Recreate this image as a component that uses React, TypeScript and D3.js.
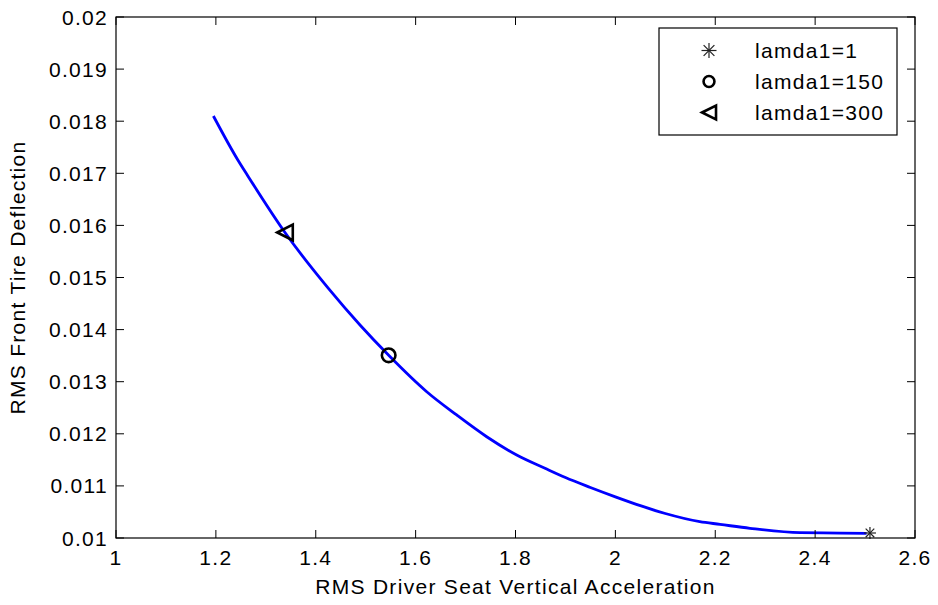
import React from "react";
import * as d3 from "d3";

const xTickValues = [1, 1.2, 1.4, 1.6, 1.8, 2, 2.2, 2.4, 2.6];
const xTickLabels = ["1", "1.2", "1.4", "1.6", "1.8", "2", "2.2", "2.4", "2.6"];
const yTickValues = [0.01, 0.011, 0.012, 0.013, 0.014, 0.015, 0.016, 0.017, 0.018, 0.019, 0.02];
const yTickLabels = ["0.01", "0.011", "0.012", "0.013", "0.014", "0.015", "0.016", "0.017", "0.018", "0.019", "0.02"];

const curveX = [1.195, 1.244, 1.264, 1.3384, 1.4245, 1.4886, 1.546, 1.6222, 1.6822, 1.7423, 1.8024, 1.859, 1.9, 1.95, 2.0, 2.05, 2.1, 2.169, 2.2095, 2.2695, 2.3697, 2.45, 2.503];
const curveY = [0.0181, 0.017255, 0.01695, 0.015864, 0.0148, 0.014088, 0.013507, 0.012808, 0.012361, 0.011944, 0.011593, 0.011338, 0.01116, 0.01097, 0.01079, 0.01062, 0.01047, 0.010313, 0.010262, 0.010186, 0.010102, 0.010095, 0.01009];

const markerNames = ["lamda1=1", "lamda1=150", "lamda1=300"];
const markerX = [2.5098, 1.546, 1.3384];
const markerY = [0.010096, 0.013507, 0.015864];
const markerKinds = ["star", "circle", "triangle"];

const xTitle = "RMS Driver Seat Vertical Acceleration";
const yTitle = "RMS Front Tire Deflection";

const W = 938, H = 605;
const L = 116, R = 915, T = 17, B = 538;
const FONT = "'Liberation Sans', Arial, sans-serif";
const FS = 21;
const LS = 1.3;

function Marker({ kind, x, y, scale = 1 }: { kind: string; x: number; y: number; scale?: number }) {
  if (kind === "star") {
    const r = 6 * scale, d = 4.3 * scale;
    return (
      <g stroke="#222" strokeWidth={1.2} fill="none">
        <line x1={x - r} y1={y} x2={x + r} y2={y} />
        <line x1={x} y1={y - r} x2={x} y2={y + r} />
        <line x1={x - d} y1={y - d} x2={x + d} y2={y + d} />
        <line x1={x - d} y1={y + d} x2={x + d} y2={y - d} />
      </g>
    );
  }
  if (kind === "circle") {
    return <circle cx={x} cy={y} r={6.8 * scale} fill="none" stroke="#000" strokeWidth={2.6} />;
  }
  const r = 7.8 * scale;
  return (
    <path
      d={`M${x - r},${y} L${x + r},${y - r} L${x + r},${y + r} Z`}
      fill="none"
      stroke="#000"
      strokeWidth={2.6}
      strokeLinejoin="miter"
    />
  );
}

export default function App() {
  const x = d3.scaleLinear().domain([1, 2.6]).range([L, R]);
  const y = d3.scaleLinear().domain([0.01, 0.02]).range([B, T]);
  const pts: [number, number][] = curveX.map((v, i) => [v, curveY[i]]);
  const line = d3
    .line<[number, number]>()
    .x((d) => x(d[0]))
    .y((d) => y(d[1]))
    .curve(d3.curveMonotoneX);

  const tl = 8;
  const legendRows = [50.5, 81.5, 112.5];

  return (
    <svg
      width={W}
      height={H}
      style={{ position: "absolute", left: 0, top: 0, background: "#fff" }}
      fontFamily={FONT}
    >
      <rect x={0} y={0} width={W} height={H} fill="#fff" />
      <path d={line(pts) || ""} fill="none" stroke="#0000ff" strokeWidth={2.8} strokeLinejoin="round" />
      {markerKinds.map((k, i) => (
        <Marker key={k} kind={k} x={x(markerX[i])} y={y(markerY[i])} />
      ))}
      <rect x={L} y={T} width={R - L} height={B - T} fill="none" stroke="#000" strokeWidth={1.2} />
      {xTickValues.map((v, i) => (
        <g key={"x" + i}>
          <line x1={x(v)} x2={x(v)} y1={B} y2={B - tl} stroke="#000" strokeWidth={1} />
          <line x1={x(v)} x2={x(v)} y1={T} y2={T + tl} stroke="#000" strokeWidth={1} />
          <text x={x(v)} y={565} textAnchor="middle" fontSize={FS} letterSpacing={LS} fill="#000">
            {xTickLabels[i]}
          </text>
        </g>
      ))}
      {yTickValues.map((v, i) => (
        <g key={"y" + i}>
          <line x1={L} x2={L + tl} y1={y(v)} y2={y(v)} stroke="#000" strokeWidth={1} />
          <line x1={R} x2={R - tl} y1={y(v)} y2={y(v)} stroke="#000" strokeWidth={1} />
          <text x={108} y={y(v) + 7.5} textAnchor="end" fontSize={FS} letterSpacing={LS} fill="#000">
            {yTickLabels[i]}
          </text>
        </g>
      ))}
      <text x={(L + R) / 2} y={594} textAnchor="middle" fontSize={FS} letterSpacing={LS} fill="#000">
        {xTitle}
      </text>
      <text
        transform={`translate(25,${(T + B) / 2}) rotate(-90)`}
        textAnchor="middle"
        fontSize={FS}
        letterSpacing={LS}
        fill="#000"
      >
        {yTitle}
      </text>
      <rect x={659} y={28} width={238} height={107} fill="#fff" stroke="#000" strokeWidth={1.2} />
      {markerNames.map((n, i) => (
        <g key={n}>
          <Marker kind={markerKinds[i]} x={709} y={legendRows[i]} scale={i === 0 ? 1.25 : i === 1 ? 0.8 : 0.9} />
          <text x={755} y={legendRows[i] + 7.5} fontSize={FS} letterSpacing={LS} fill="#000">
            {n}
          </text>
        </g>
      ))}
    </svg>
  );
}
